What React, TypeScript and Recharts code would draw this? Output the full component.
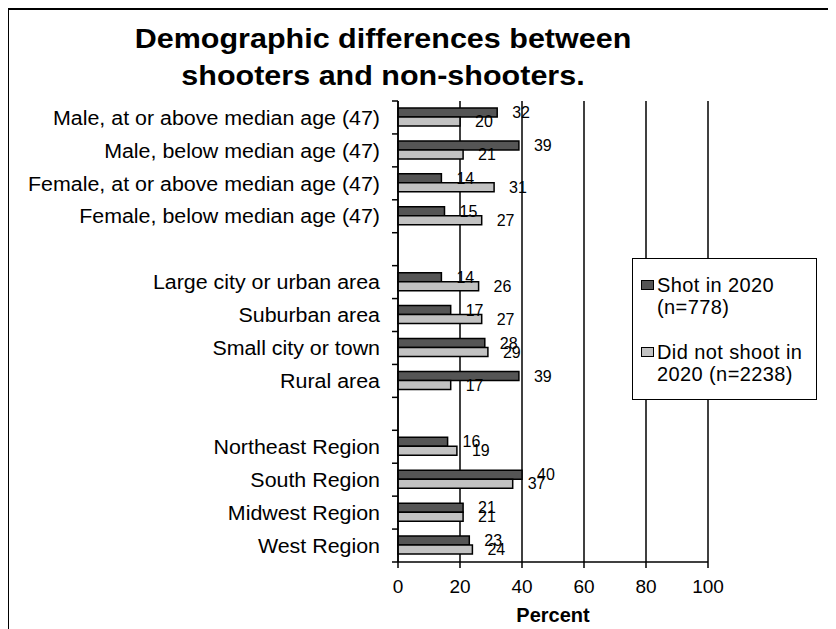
import React from 'react';
import { BarChart, Bar, XAxis, YAxis, CartesianGrid, LabelList, Legend } from 'recharts';

const categories = [
  'Male, at or above median age (47)',
  'Male, below median age (47)',
  'Female, at or above median age (47)',
  'Female, below median age (47)',
  '',
  'Large city or urban area',
  'Suburban area',
  'Small city or town',
  'Rural area',
  '',
  'Northeast Region',
  'South Region',
  'Midwest Region',
  'West Region',
];
const shotIn2020 = [32, 39, 14, 15, null, 14, 17, 28, 39, null, 16, 40, 21, 23];
const didNotShoot = [20, 21, 31, 27, null, 26, 27, 29, 17, null, 19, 37, 21, 24];
const xTicks = [0, 20, 40, 60, 80, 100];
const shotName = ['Shot in 2020', '(n=778)'];
const notShotName = ['Did not shoot in', '2020 (n=2238)'];
const titleLines = ['Demographic differences between', 'shooters and non-shooters.'];
const xAxisTitle = 'Percent';

const data = categories.map((c, i) => ({
  key: c === '' ? `gap-${i}` : c,
  label: c,
  shot: shotIn2020[i],
  notShot: didNotShoot[i],
}));

const FONT = "'Liberation Sans', Arial, Helvetica, sans-serif";
const W = 828;
const H = 621;
const MARGIN = { top: 93, right: 128, bottom: 27, left: 0 };
const Y_W = 390;
const X_H = 40;
const PLOT_H = H - MARGIN.top - MARGIN.bottom - X_H;
const BAND = PLOT_H / categories.length;
const DARK = '#555555';
const LIGHT = '#c2c2c2';

const YTick = (props: any) => {
  const { x, y, payload, index } = props;
  const d = data.find((e) => e.key === payload.value);
  const label = d ? d.label : '';
  return (
    <g>
      <line x1={x - 6} x2={x} y1={y - BAND / 2} y2={y - BAND / 2} stroke="#000" strokeWidth={1.5} />
      {index === categories.length - 1 && (
        <line x1={x - 6} x2={x} y1={y + BAND / 2} y2={y + BAND / 2} stroke="#000" strokeWidth={1.5} />
      )}
      <g transform={`translate(${x - 18},${y}) scale(1.07,1)`}>
        <text x={0} y={0} dy="0.36em" textAnchor="end" fontSize={20} fill="#000" fontFamily={FONT}>
          {label}
        </text>
      </g>
    </g>
  );
};

const fmt = (v: any) => (v === null || v === undefined ? '' : v);

const Swatch = ({ color }: { color: string }) => (
  <span
    style={{
      display: 'inline-block',
      width: 13,
      height: 10,
      boxSizing: 'border-box',
      border: '1px solid #000',
      background: color,
      marginTop: 6,
      marginRight: 3,
      flex: 'none',
    }}
  />
);

const LegendBox = () => (
  <div
    style={{
      width: 185,
      height: 142,
      boxSizing: 'border-box',
      border: '1.5px solid #000',
      background: '#fff',
      padding: '15px 0 0 8px',
      fontFamily: FONT,
      fontSize: 20,
      lineHeight: '22px',
      letterSpacing: 0.4,
      color: '#000',
    }}
  >
    <div style={{ display: 'flex', alignItems: 'flex-start', marginBottom: 23 }}>
      <Swatch color={DARK} />
      <div>
        {shotName[0]}
        <br />
        {shotName[1]}
      </div>
    </div>
    <div style={{ display: 'flex', alignItems: 'flex-start' }}>
      <Swatch color={LIGHT} />
      <div>
        {notShotName[0]}
        <br />
        {notShotName[1]}
      </div>
    </div>
  </div>
);

export default function App() {
  return (
    <div style={{ position: 'relative', width: W, height: H }}>
      <BarChart
        width={W}
        height={H}
        data={data}
        layout="vertical"
        margin={MARGIN}
        barGap={0}
        barSize={9}
      >
        <CartesianGrid horizontal={false} vertical={true} stroke="#000" strokeWidth={1.5} />
        <XAxis
          type="number"
          domain={[0, 100]}
          ticks={xTicks}
          interval={0}
          height={X_H}
          tickSize={6}
          tickMargin={12}
          axisLine={{ stroke: '#000', strokeWidth: 1.5 }}
          tickLine={{ stroke: '#000', strokeWidth: 1.5 }}
          tick={{ fill: '#000', fontSize: 19, fontFamily: FONT }}
        />
        <XAxis
          xAxisId="top"
          orientation="top"
          type="number"
          domain={[0, 100]}
          height={0}
          tick={false}
          tickLine={false}
          axisLine={{ stroke: '#000', strokeWidth: 1.5 }}
        />
        <YAxis
          type="category"
          dataKey="key"
          width={Y_W}
          interval={0}
          tickSize={0}
          tickMargin={0}
          tickLine={false}
          axisLine={{ stroke: '#000', strokeWidth: 1.5 }}
          tick={<YTick />}
        />
        <Legend
          layout="horizontal"
          verticalAlign="middle"
          align="center"
          wrapperStyle={{ left: 624, top: 250, width: 185, height: 142 }}
          content={() => <LegendBox />}
        />
        <Bar
          dataKey="shot"
          name={shotName.join(' ')}
          fill={DARK}
          stroke="#000"
          strokeWidth={1.5}
          isAnimationActive={false}
        >
          <LabelList
            dataKey="shot"
            position="right"
            offset={15}
            formatter={fmt}
            fill="#000"
            fontSize={16}
            fontFamily={FONT}
          />
        </Bar>
        <Bar
          dataKey="notShot"
          name={notShotName.join(' ')}
          fill={LIGHT}
          stroke="#000"
          strokeWidth={1.5}
          isAnimationActive={false}
        >
          <LabelList
            dataKey="notShot"
            position="right"
            offset={15}
            formatter={fmt}
            fill="#000"
            fontSize={16}
            fontFamily={FONT}
          />
        </Bar>
      </BarChart>
      <svg
        width={W}
        height={H}
        style={{ position: 'absolute', left: 0, top: 0, pointerEvents: 'none' }}
      >
        <line x1={-1} x2={W} y1={1} y2={1} stroke="#000" strokeWidth={2} />
        <line x1={0} x2={0} y1={0} y2={H} stroke="#000" strokeWidth={2} />
        <g transform="translate(375,40) scale(1.13,1)">
          <text x={0} y={0} textAnchor="middle" fontSize={27} fontWeight="bold" fontFamily={FONT} fill="#000">
            {titleLines[0]}
          </text>
        </g>
        <g transform="translate(375,77) scale(1.13,1)">
          <text x={0} y={0} textAnchor="middle" fontSize={27} fontWeight="bold" fontFamily={FONT} fill="#000">
            {titleLines[1]}
          </text>
        </g>
        <text x={545} y={614} textAnchor="middle" fontSize={20} fontWeight="bold" fontFamily={FONT} fill="#000">
          {xAxisTitle}
        </text>
      </svg>
    </div>
  );
}
